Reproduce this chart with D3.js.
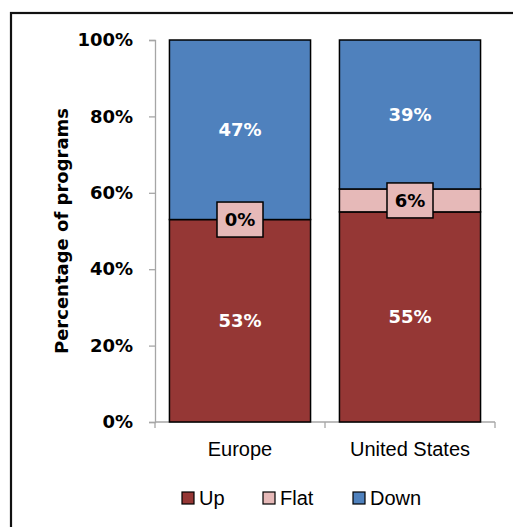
<!DOCTYPE html>
<html><head><meta charset="utf-8">
<script src="https://cdn.jsdelivr.net/npm/d3@7"></script>
<style>body{margin:0;background:#fff}</style>
</head><body>
<svg id="c" width="513" height="527"></svg>
<script>
const categories = ["Europe", "United States"];
const seriesNames = ["Up", "Flat", "Down"];
const upValues = [53, 55];
const flatValues = [0, 6];
const downValues = [47, 39];
const yTicks = [0, 20, 40, 60, 80, 100];
const colors = ["#953735", "#E6B9B8", "#4F81BD"];

const svg = d3.select("#c");
const gFont = "'DejaVu Sans',sans-serif";

svg.append("rect").attr("x", 11).attr("y", 13).attr("width", 520).attr("height", 530)
  .attr("fill", "none").attr("stroke", "#111").attr("stroke-width", 2.2);

const x = d3.scaleBand().domain(categories).range([155, 495]).paddingInner(0.17).paddingOuter(0.085);
const y = d3.scaleLinear().domain([0, 100]).range([422, 40]);

const data = categories.map((c, i) => ({cat: c, Up: upValues[i], Flat: flatValues[i], Down: downValues[i]}));
const stack = d3.stack().keys(seriesNames)(data);

// axes
const yAxis = svg.append("g").attr("transform", "translate(155,0)")
  .call(d3.axisLeft(y).tickValues(yTicks).tickFormat(d => d + "%").tickSize(6).tickPadding(16));
yAxis.select(".domain").attr("stroke", "#a6a6a6").attr("stroke-width", 1.3);
yAxis.selectAll(".tick line").attr("stroke", "#a6a6a6").attr("stroke-width", 1.3);
yAxis.selectAll("text").attr("font-family", gFont).attr("font-weight", "bold").attr("font-size", 18).attr("fill", "#000");

const xAxis = svg.append("g").attr("transform", "translate(0,422)")
  .call(d3.axisBottom(x).tickSize(0).tickPadding(20));
xAxis.select(".domain").attr("stroke", "#a6a6a6").attr("stroke-width", 1.3).attr("d", "M155,0H495");
xAxis.selectAll("text").attr("font-family", "'Liberation Sans',Arial,sans-serif").attr("font-size", 20).attr("fill", "#000");
// category separator ticks
const sepX = [155, (x("Europe") + x.bandwidth() + x("United States")) / 2, 495];
xAxis.selectAll(".sep").data(sepX).enter().append("line").attr("class", "sep")
  .attr("x1", d => d).attr("x2", d => d).attr("y1", 0).attr("y2", 6)
  .attr("stroke", "#a6a6a6").attr("stroke-width", 1.3);

// bars
stack.forEach((s, si) => {
  svg.append("g").selectAll("rect").data(s).enter().append("rect")
    .attr("x", d => x(d.data.cat))
    .attr("width", x.bandwidth())
    .attr("y", d => y(d[1]))
    .attr("height", d => y(d[0]) - y(d[1]))
    .attr("fill", colors[si])
    .attr("stroke", "#000").attr("stroke-width", 1.5);
});

// labels
stack.forEach((s, si) => {
  s.forEach(d => {
    const cx = x(d.data.cat) + x.bandwidth() / 2;
    const cy = (y(d[0]) + y(d[1])) / 2;
    const val = d[1] - d[0];
    const txt = val + "%";
    if (seriesNames[si] === "Flat") {
      svg.append("rect").attr("x", cx - 23).attr("y", cy - 17.5).attr("width", 46).attr("height", 35)
        .attr("fill", colors[1]).attr("stroke", "#000").attr("stroke-width", 1.5);
      svg.append("text").attr("x", cx).attr("y", cy).attr("dy", "0.36em").attr("text-anchor", "middle")
        .attr("font-family", gFont).attr("font-weight", "bold").attr("font-size", 18).attr("fill", "#000").text(txt);
    } else {
      svg.append("text").attr("x", cx).attr("y", cy).attr("dy", "0.36em").attr("text-anchor", "middle")
        .attr("font-family", gFont).attr("font-weight", "bold").attr("font-size", 18).attr("fill", "#fff").text(txt);
    }
  });
});

// y title
svg.append("text").attr("transform", "translate(62,231) rotate(-90)")
  .attr("text-anchor", "middle").attr("dy", "0.35em")
  .attr("font-family", gFont).attr("font-weight", "bold").attr("font-size", 18).attr("fill", "#000")
  .text("Percentage of programs");

// legend
const legX = [182, 263, 353];
const leg = svg.append("g");
seriesNames.forEach((n, i) => {
  leg.append("rect").attr("x", legX[i]).attr("y", 492).attr("width", 12).attr("height", 12)
    .attr("fill", colors[i]).attr("stroke", "#000").attr("stroke-width", 1.2);
  leg.append("text").attr("x", legX[i] + 17).attr("y", 498).attr("dy", "0.36em")
    .attr("font-family", "'Liberation Sans',Arial,sans-serif").attr("font-size", 20).attr("fill", "#000").text(n);
});
</script>
</body></html>
